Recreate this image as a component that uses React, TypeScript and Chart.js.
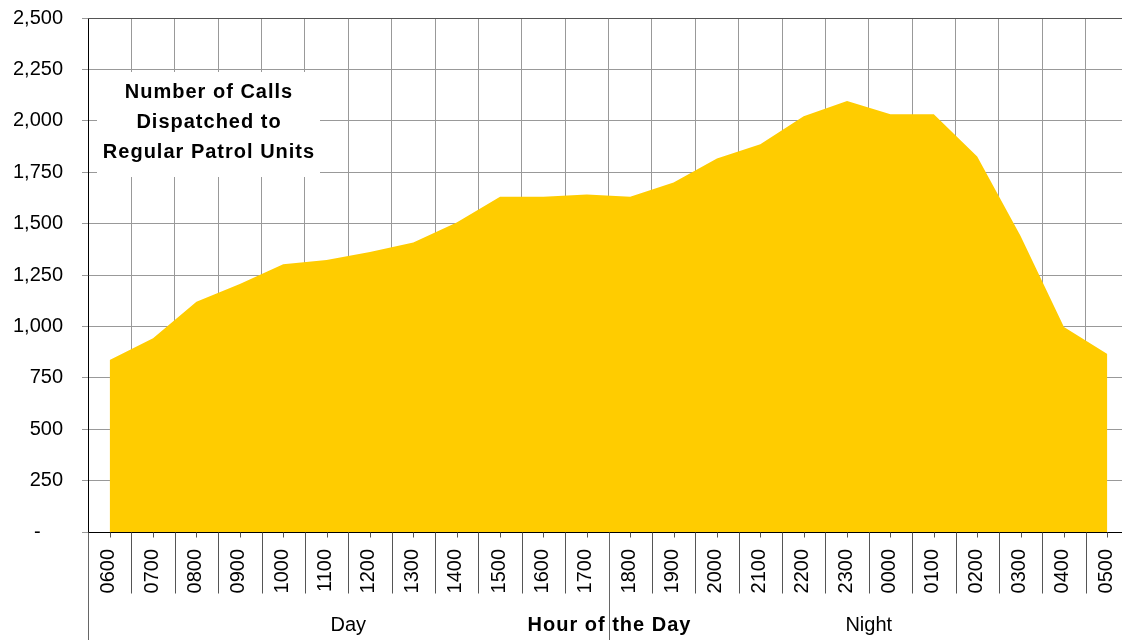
import React, { useEffect, useRef } from "react";
import { Chart, registerables } from "chart.js";

Chart.register(...registerables);

const hours = [
  "0600", "0700", "0800", "0900", "1000", "1100", "1200", "1300", "1400", "1500", "1600", "1700",
  "1800", "1900", "2000", "2100", "2200", "2300", "0000", "0100", "0200", "0300", "0400", "0500",
];
const calls = [
  836, 942, 1120, 1206, 1302, 1323, 1362, 1408, 1505, 1631, 1631, 1642,
  1631, 1700, 1817, 1886, 2022, 2096, 2032, 2032, 1826, 1440, 997, 866,
];
const yTicks = [0, 250, 500, 750, 1000, 1250, 1500, 1750, 2000, 2250, 2500];
const titleLines = ["Number of Calls", "Dispatched to", "Regular Patrol Units"];
const groupLabels = ["Day", "Night"];
const axisTitle = "Hour of the Day";

const FONT = "'Liberation Sans', Arial, sans-serif";

const overlayPlugin = {
  id: "overlay",
  afterDraw(chart: any) {
    const ctx = chart.ctx;
    const xs = chart.scales.x;
    const area = chart.chartArea;
    const n = hours.length;
    const bw = (area.right - area.left) / n;
    ctx.save();
    // top border
    ctx.strokeStyle = "#555555";
    ctx.lineWidth = 1;
    ctx.beginPath();
    ctx.moveTo(area.left, Math.round(area.top) + 0.5);
    ctx.lineTo(area.right, Math.round(area.top) + 0.5);
    ctx.stroke();

    const y0 = Math.round(area.bottom) + 0.5;
    // short ticks at data points
    ctx.strokeStyle = "#555555";
    for (let i = 0; i < n; i++) {
      const x = Math.round(xs.getPixelForValue(i)) + 0.5;
      ctx.beginPath();
      ctx.moveTo(x, y0);
      ctx.lineTo(x, y0 + 5);
      ctx.stroke();
    }
    // category boundaries
    for (let i = 0; i <= n; i++) {
      const x = Math.round(area.left + i * bw) + 0.5;
      const long = i === 0 || i === n / 2 || i === n;
      ctx.strokeStyle = long ? "#666666" : "#555555";
      ctx.beginPath();
      ctx.moveTo(x, y0);
      ctx.lineTo(x, long ? chart.height : y0 + 61);
      ctx.stroke();
    }
    // rotated hour labels
    ctx.fillStyle = "#000000";
    ctx.font = `20px ${FONT}`;
    ctx.textAlign = "right";
    ctx.textBaseline = "middle";
    for (let i = 0; i < n; i++) {
      const x = xs.getPixelForValue(i);
      ctx.save();
      ctx.translate(x - 1, area.bottom + 17);
      ctx.rotate(-Math.PI / 2);
      ctx.fillText(hours[i], 0, 0);
      ctx.restore();
    }
    // group labels
    const gy = 625;
    ctx.textAlign = "center";
    ctx.font = `20px ${FONT}`;
    const mid = area.left + (n / 2) * bw;
    ctx.fillText(groupLabels[0], (area.left + mid) / 2, gy);
    ctx.fillText(groupLabels[1], (mid + area.right) / 2, gy);
    ctx.font = `bold 20px ${FONT}`;
    (ctx as any).letterSpacing = "1px";
    ctx.fillText(axisTitle, mid + 1, gy);

    // title box
    ctx.fillStyle = "#ffffff";
    ctx.fillRect(97, 72, 223, 105);
    ctx.fillStyle = "#000000";
    titleLines.forEach((t, k) => {
      ctx.fillText(t, 209, 92 + k * 30);
    });
    ctx.restore();
  },
};

export default function App() {
  const ref = useRef<HTMLCanvasElement>(null);
  useEffect(() => {
    if (!ref.current) return;
    const chart = new Chart(ref.current, {
      type: "line",
      data: {
        labels: hours,
        datasets: [
          {
            data: calls,
            fill: "origin",
            backgroundColor: "#FFCC00",
            borderWidth: 0,
            borderColor: "rgba(0,0,0,0)",
            pointRadius: 0,
            tension: 0,
          },
        ],
      },
      options: {
        animation: false,
        responsive: false,
        maintainAspectRatio: false,
        layout: { padding: { top: 18, right: 11, left: 0, bottom: 0 } },
        plugins: { legend: { display: false }, tooltip: { enabled: false }, title: { display: false } },
        scales: {
          x: {
            type: "category",
            offset: true,
            grid: { offset: true, color: "#999999", lineWidth: 1, drawTicks: false },
            border: { color: "#000000", width: 1 },
            ticks: { display: false },
            afterFit(scale: any) {
              scale.height = 108;
              scale.paddingLeft = 0;
              scale.paddingRight = 0;
            },
          },
          y: {
            min: 0,
            max: 2500,
            afterBuildTicks(scale: any) {
              scale.ticks = yTicks.map((v) => ({ value: v }));
            },
            grid: { color: "#999999", lineWidth: 1, tickLength: 6, drawTicks: true },
            border: { color: "#000000", width: 1 },
            ticks: {
              padding: 19,
              color: "#000000",
              font: { family: FONT, size: 20 },
              callback: (v: any) => (Number(v) === 0 ? "-    " : Number(v).toLocaleString("en-US")),
            },
            afterFit(scale: any) {
              scale.width = 88;
              scale.paddingTop = 0;
              scale.paddingBottom = 0;
            },
          },
        },
      },
      plugins: [overlayPlugin],
    });
    return () => chart.destroy();
  }, []);
  return (
    <div style={{ position: "fixed", left: 0, top: 0, width: 1122, height: 640, overflow: "hidden", background: "#fff" }}>
      <canvas ref={ref} width={1140} height={640} style={{ width: 1140, height: 640, display: "block" }} />
    </div>
  );
}
